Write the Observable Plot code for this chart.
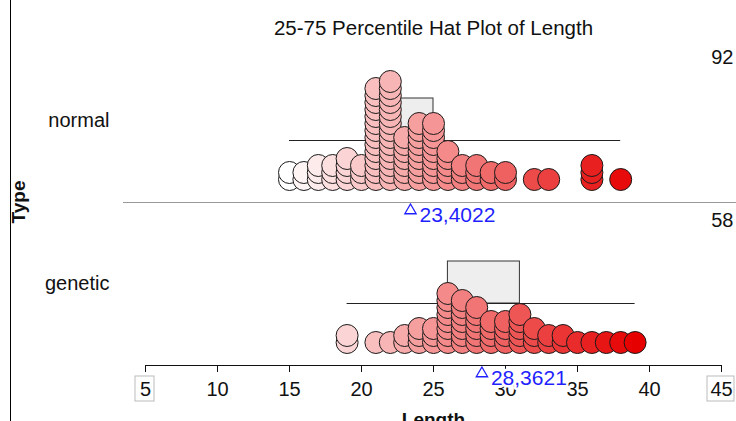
<!DOCTYPE html>
<html>
<head>
<meta charset="utf-8">
<script src="https://cdn.jsdelivr.net/npm/d3@7"></script>
<script src="https://cdn.jsdelivr.net/npm/@observablehq/plot@0.6"></script>
<style>
  body { margin: 0; background: #fff; }
  #chart { position: relative; width: 736px; height: 421px; overflow: hidden; }
  #chart::before { content: ""; position: absolute; left: 10px; top: 0; width: 1px; height: 421px; background: #000; }
  #chart svg { display: block; }
</style>
</head>
<body>
<div id="chart"></div>
<script>
// Length observations for each type
const types = ["normal", "genetic"];
const normalLength = [
  15, 15, 16, 16, 17, 17, 17, 18, 18, 18, 19, 19, 19, 19, 20, 20, 20,
  21, 21, 21, 21, 21, 21, 21, 21, 21, 21, 21, 21, 21, 21,
  22, 22, 22, 22, 22, 22, 22, 22, 22, 22, 22, 22, 22, 22, 22,
  23, 23, 23, 23, 23, 23, 23,
  24, 24, 24, 24, 24, 24, 24, 24, 24,
  25, 25, 25, 25, 25, 25, 25, 25, 25,
  26, 26, 26, 26, 26, 27, 27, 27, 28, 28, 28, 29, 29, 30, 30,
  32, 33, 36, 36, 36, 38
];
const geneticLength = [
  19, 19, 21, 22, 23, 23, 24, 24, 24, 25, 25, 25,
  26, 26, 26, 26, 26, 26, 26, 26,
  27, 27, 27, 27, 27, 27, 27,
  28, 28, 28, 28, 28, 28,
  29, 29, 29, 29, 30, 30, 30, 30,
  31, 31, 31, 31, 31, 32, 32, 32, 33, 33, 34, 34,
  35, 36, 37, 38, 39
];
const xTicks = [5, 10, 15, 20, 25, 30, 35, 40, 45];
const title = "25-75 Percentile Hat Plot of Length";

// One row per observation, with its position in the pile of equal lengths
const rows = [];
for (const [type, values] of [["normal", normalLength], ["genetic", geneticLength]]) {
  const seen = new Map();
  for (const v of values) {
    const level = seen.get(v) || 0;
    seen.set(v, level + 1);
    rows.push({type, length: v, level});
  }
}

// Summary per type: count, mean, quartiles, range
const stats = types.map((type) => {
  const v = rows.filter((d) => d.type === type).map((d) => d.length).sort(d3.ascending);
  return {
    type,
    n: v.length,
    mean: d3.mean(v),
    q1: d3.quantile(v, 0.25),
    q3: d3.quantile(v, 0.75),
    min: v[0],
    max: v[v.length - 1]
  };
});

// Vertical layout inside each panel, in pixels above the panel floor
const BASE = 23, STEP = 7, LINE = 62, HAT = 104;
const font = "'Liberation Sans', Arial, sans-serif";
const commaFmt = (x) => d3.format(".4f")(x).replace(".", ",");

const chart = Plot.plot({
  width: 736,
  height: 421,
  marginLeft: 145,
  marginRight: 15,
  marginTop: 39,
  marginBottom: 56,
  style: {fontFamily: font, fontSize: "20px", background: "white", overflow: "visible", color: "#111"},
  x: {domain: [5, 45]},
  y: {domain: [0, 163], axis: null},
  fy: {domain: types, padding: 0},
  color: {type: "linear", domain: d3.extent(rows, (d) => d.length), range: ["#ffffff", "#e60000"], interpolate: "rgb"},
  marks: [
    Plot.axisFy({anchor: "left", tickSize: 0, tickPadding: 36, label: null, fontSize: 20}),
    Plot.axisX({ticks: xTicks, tickSize: 7, tickPadding: 9, label: null, fontSize: 20, stroke: "#111"}),
    // boxes round the end labels of the axis
    Plot.rect([{type: "genetic", v: 5}], {fy: "type", x1: "v", x2: "v", y1: -11, y2: -36, insetLeft: -10, insetRight: -9, fill: "none", stroke: "#bbb"}),
    Plot.rect([{type: "genetic", v: 45}], {fy: "type", x1: "v", x2: "v", y1: -11, y2: -36, insetLeft: -14, insetRight: -13, fill: "none", stroke: "#bbb"}),
    // panel separator and axis line
    Plot.ruleY([{type: "normal"}], {fy: "type", y: 0, stroke: "#999", insetLeft: -22, insetRight: -15}),
    Plot.ruleY([{type: "genetic"}], {fy: "type", y: 0, stroke: "#111"}),
    // hat: 25-75 percentile box on top of the full range line
    Plot.rect(stats, {fy: "type", x1: "q1", x2: "q3", y1: LINE, y2: HAT, fill: "#eeeeee", stroke: "#333"}),
    Plot.ruleY(stats, {fy: "type", y: LINE, x1: "min", x2: "max", stroke: "#222"}),
    // observations
    Plot.dot(rows, {fy: "type", x: "length", y: (d) => BASE + d.level * STEP, r: 11, fill: "length", stroke: "#1a1a1a", strokeWidth: 1}),
    // mean marker and value
    Plot.text(stats, {fy: "type", x: "mean", y: -13, dx: 9, text: (d) => commaFmt(d.mean), textAnchor: "start", fill: "#1f1fff", stroke: "white", strokeWidth: 5, fontSize: 21}),
    Plot.dot(stats, {fy: "type", x: "mean", y: -8, symbol: "triangle", r: 4.2, stroke: "#1f1fff", fill: "white", strokeWidth: 1.3}),
    // counts
    Plot.text(stats, {fy: "type", frameAnchor: "top-right", dx: 12, dy: 18, lineAnchor: "middle", text: "n", textAnchor: "end", fontSize: 20}),
    // titles
    Plot.text([{type: "normal"}], {fy: "type", frameAnchor: "top", dy: -11, lineAnchor: "middle", text: () => title, fontSize: 20.5}),
    Plot.text([{type: "normal"}], {fy: "type", frameAnchor: "left", dx: -127, dy: 81, rotate: -90, textAnchor: "middle", text: () => "Type", fontWeight: "bold", fontSize: 19}),
    Plot.text([{type: "genetic"}], {fy: "type", frameAnchor: "bottom", dy: 54, lineAnchor: "middle", text: () => "Length", fontWeight: "bold", fontSize: 19})
  ]
});

document.getElementById("chart").append(chart);
</script>
</body>
</html>
